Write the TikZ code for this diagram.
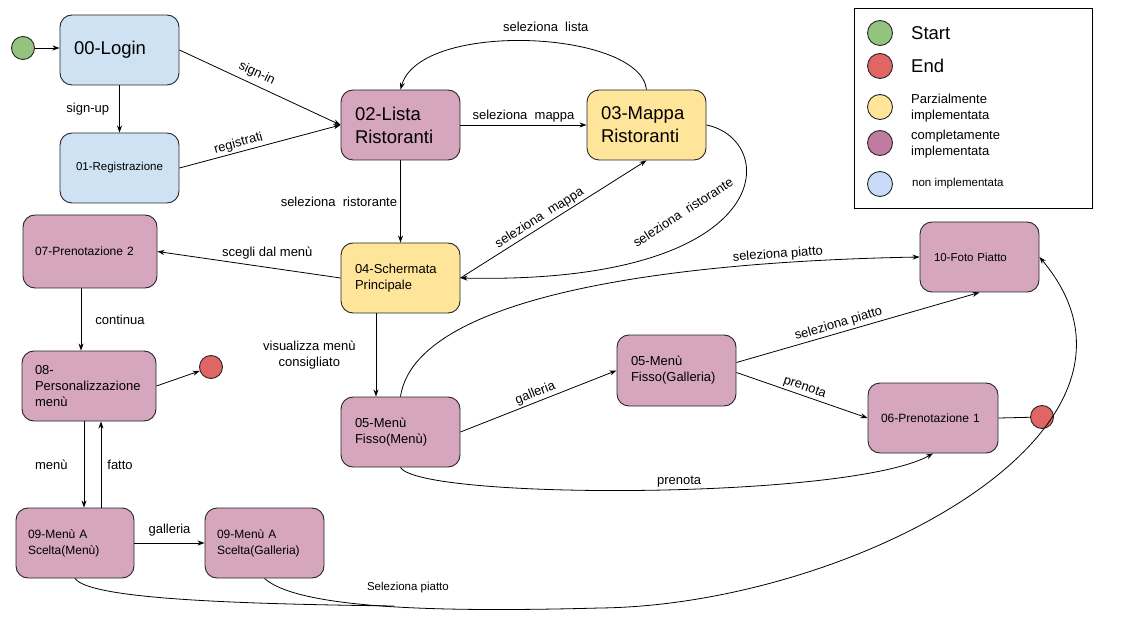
\documentclass[tikz,border=0pt]{standalone}
\usepackage{fontspec}
\setmainfont{Liberation Sans}
\usetikzlibrary{arrows.meta}

\definecolor{nonimplcol}{HTML}{CFE2F3}
\definecolor{parzcol}{HTML}{FFE599}
\definecolor{complcol}{HTML}{D5A6BD}
\definecolor{startcol}{HTML}{93C47D}
\definecolor{endcol}{HTML}{E06666}
\definecolor{legcomplcol}{HTML}{C27BA0}
\definecolor{legnoncol}{HTML}{C9DAF8}

\newcommand{\txtbig}{\fontsize{18.5}{23}\selectfont}
\newcommand{\txtmid}{\fontsize{13}{16}\selectfont}
\newcommand{\txtsmall}{\fontsize{12}{16}\selectfont}
\newcommand{\txttiny}{\fontsize{11.5}{14}\selectfont}

\begin{document}
\begin{tikzpicture}[x = 1pt, y = -1pt, >={Stealth[length = 7pt, width = 5pt]},
    screen/.style = {draw = black!85, line width = .9pt, rounded corners = 12pt, inner xsep = 14pt, inner ysep = 0pt, minimum height = 70pt, align = left},
    nonimpl/.style = {screen, fill = nonimplcol},
    parziale/.style = {screen, fill = parzcol},
    completa/.style = {screen, fill = complcol},
    pallino/.style = {circle, draw = black!85, line width = .9pt, minimum size = 23pt, inner sep = 0pt},
    arco/.style = {line width = .8pt},
    etichetta/.style = {font = \txtmid, align = center, inner sep = 2pt}]

    \useasboundingbox (0,0) rectangle (1143,628);

    \node [pallino, fill = startcol] (start) at (23,48) {};
    \node [nonimpl, text width = 91pt, font = \txtbig] (login) at (119.5,50) {00-Login};
    \node [nonimpl, text width = 91pt, align = center, font = \txttiny] (reg) at (119.5,168) {01-Registrazione};
    \node [completa, text width = 91pt, font = \txtbig] (lista) at (400.5,125) {02-Lista\\Ristoranti};
    \node [parziale, text width = 91pt, font = \txtbig] (mappa) at (646.5,125) {03-Mappa\\Ristoranti};
    \node [parziale, text width = 91pt, font = \txtmid] (scherm) at (400.5,278) {04-Schermata\\Principale};
    \node [completa, text width = 110pt, inner xsep = 12pt, minimum height = 73pt, font = \txtsmall] (pren2) at (90,251.5) {07-Prenotazione 2};
    \node [completa, text width = 108pt, inner xsep = 13pt, font = \txtmid] (pers) at (89,386) {08-\\Personalizzazione\\menù};
    \node [pallino, fill = endcol] (fineA) at (211,367) {};
    \node [completa, text width = 94pt, inner xsep = 12pt, font = \txtsmall] (sceltaM) at (75,543) {09-Menù A\\Scelta(Menù)};
    \node [completa, text width = 95pt, inner xsep = 12pt, font = \txtsmall] (sceltaG) at (264.5,543) {09-Menù A\\Scelta(Galleria)};
    \node [completa, text width = 91pt, font = \txtmid] (fissoM) at (400.5,432) {05-Menù\\Fisso(Menù)};
    \node [completa, text width = 91pt, minimum height = 71pt, font = \txtmid] (fissoG) at (676.5,370.5) {05-Menù\\Fisso(Galleria)};
    \node [completa, text width = 104pt, inner xsep = 13pt, font = \txtsmall] (pren1) at (933,418) {06-Prenotazione 1};
    \node [pallino, fill = endcol] (fineB) at (1042,417) {};
    \node [completa, text width = 91pt, font = \txttiny] (foto) at (979.5,257) {10-Foto Piatto};

    \draw [arco, ->] (start) -- (login.west |- start);
    \draw [arco, ->] (login.east) -- (lista.west) node [etichetta, pos = .45, above = 3pt, sloped] {sign-in};
    \draw [arco, ->] (login) -- (reg) node [etichetta, midway, left = 8pt] {sign-up};
    \draw [arco, ->] (reg.east) -- (lista.west) node [etichetta, pos = .38, above, sloped] {registrati};
    \draw [arco, ->] (lista) -- (mappa) node [etichetta, midway, above] {seleziona\ \ mappa};
    \draw [arco, ->] (mappa.north) .. controls (640,30) and (420,20) .. (lista.north) node [etichetta, pos = .45, above = 8pt] {seleziona\ \ lista};
    \draw [arco, ->] (lista) -- (scherm) node [etichetta, midway, left = 1pt] {seleziona\ \ ristorante};
    \draw [arco, ->] (scherm.east) -- (mappa.south) node [etichetta, pos = .45, above, sloped] {seleziona\ \ mappa};
    \draw [arco, ->] (mappa.east) .. controls (780,140) and (780,285) .. (scherm.east);
    \node [etichetta, rotate = 33] (lblRist) at (683,212) {seleziona\ \ ristorante};
    \draw [arco, ->] (scherm.west) -- (pren2.east) node [etichetta, pos = .4, above = 6pt] {scegli dal menù};
    \draw [arco, ->] ([xshift = -9pt]pren2.south) -- ([xshift = -9pt]pren2.south |- pers.north) node [etichetta, midway, right = 12pt] {continua};
    \draw [arco, ->] (pers.east) -- (fineA);
    \draw [arco, ->] ([xshift = -5pt]pers.south) -- ([xshift = -5pt]pers.south |- sceltaM.north) node [etichetta, midway, left = 14pt] {menù};
    \draw [arco, ->] ([xshift = 26pt]sceltaM.north) -- ([xshift = 26pt]sceltaM.north |- pers.south) node [etichetta, midway, right = 4pt] {fatto};
    \draw [arco, ->] (sceltaM) -- (sceltaG) node [etichetta, midway, above = 4pt] {galleria};
    \draw [arco, ->] ([xshift = -24.5pt]scherm.south) -- ([xshift = -24.5pt]scherm.south |- fissoM.north) node [etichetta, midway, left = 18pt] {visualizza menù\\consigliato};
    \draw [arco, ->] (fissoM.east) -- (fissoG.west) node [etichetta, midway, above, sloped] {galleria};
    \draw [arco, ->] ([yshift = 8pt]fissoG.east) -- (foto.south) node [etichetta, pos = .43, above, sloped] {seleziona piatto};
    \draw [arco, ->] ([yshift = -2pt]fissoG.east) -- (pren1.west) node [etichetta, midway, above, sloped] {prenota};
    \draw [arco] (pren1.east) -- (fineB);
    \draw [arco, ->] (fissoM.north) .. controls (415,300) and (650,262) .. (foto.west) node [etichetta, pos = .82, above, sloped] {seleziona piatto};
    \draw [arco, ->] (fissoM.south) .. controls (420,500) and (850,500) .. (pren1.south) node [etichetta, pos = .55, above] {prenota};
    \coordinate (unione) at (394,606);
    \draw [arco] (sceltaM.south) .. controls (90,600) and (250,604) .. (unione);
    \draw [arco, ->] (sceltaG.south) .. controls (300,610) and (450,612) .. (600,608) node [etichetta, pos = .55, above = 12pt, font = \txttiny] {Seleziona piatto} .. controls (850,605) and (1185,430) .. (foto.east);

    \draw [line width = .9pt] (854,8) rectangle (1092,208);
    \node [pallino, minimum size = 25pt, fill = startcol] (legStart) at (880,33) {};
    \node [pallino, minimum size = 25pt, fill = endcol] (legEnd) at (880,66) {};
    \node [pallino, minimum size = 25pt, fill = parzcol] (legParz) at (880,107) {};
    \node [pallino, minimum size = 25pt, fill = legcomplcol] (legCompl) at (880,143) {};
    \node [pallino, minimum size = 25pt, fill = legnoncol] (legNon) at (880,184) {};
    \node [anchor = west, inner sep = 0pt, font = \txtbig] at (911,33) {Start};
    \node [anchor = west, inner sep = 0pt, font = \txtbig] at (911,66) {End};
    \node [anchor = west, inner sep = 0pt, align = left, font = \txtmid] at (911,108) {Parzialmente\\implementata};
    \node [anchor = west, inner sep = 0pt, align = left, font = \txtmid] at (911,144) {completamente\\implementata};
    \node [anchor = west, inner sep = 0pt, font = \txttiny] at (912,184) {non implementata};
    \end{tikzpicture}
\end{document}
